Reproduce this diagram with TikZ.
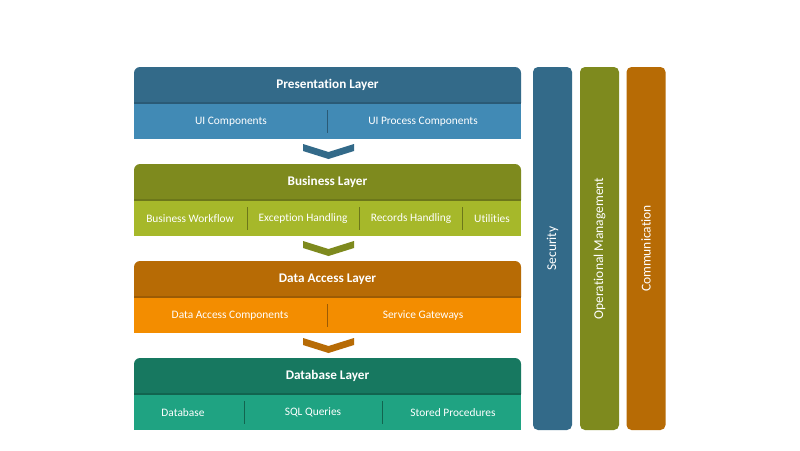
\documentclass[tikz,border=0pt]{standalone}
\usepackage{fontspec}
\setmainfont{Carlito}[Ligatures=NoCommon]
\definecolor{pH}{HTML}{336A89}
\definecolor{pS}{HTML}{418AB5}
\definecolor{pD}{HTML}{2A5A76}
\definecolor{bH}{HTML}{7E8A1E}
\definecolor{bS}{HTML}{A6B82A}
\definecolor{bD}{HTML}{6C771A}
\definecolor{dH}{HTML}{B76B05}
\definecolor{dS}{HTML}{F38D00}
\definecolor{dD}{HTML}{9C5B04}
\definecolor{gH}{HTML}{177860}
\definecolor{gS}{HTML}{1FA382}
\definecolor{gD}{HTML}{12644F}
\tikzset{
  hdr/.style={text=white,font=\bfseries\fontsize{13.2}{15}\selectfont},
  sublbl/.style={text=white,font=\fontsize{11.4}{13}\selectfont},
  vbar/.style={rounded corners=5pt,minimum width=39pt,minimum height=363pt,inner sep=0pt},
  vlbl/.style={rotate=90,text=white,font=\fontsize{13.5}{15}\selectfont},
  divider/.style={line width=0.9pt},
}
\newcommand{\layerbox}[6]{%
  \fill[#4] (134,#2) [rounded corners=6pt] -- (134,#1) -- (521,#1) [sharp corners] -- (521,#2) -- cycle;
  \fill[#5] (134,#2) rectangle (521,#3);
  \draw[#6,line width=1.6pt] (134,#2) -- (521,#2);
}
\newcommand{\chev}[2]{%
  \fill[#2] (303,#1) -- (328.5,#1+8) -- (354,#1) -- (354,#1+7) -- (328.5,#1+15) -- (303,#1+7) -- cycle;
}
\begin{document}
\begin{tikzpicture}[x=1pt,y=-1pt]
\useasboundingbox[fill=white] (0,0) rectangle (800,450);
% Presentation
\layerbox{67}{103}{139}{pH}{pS}{pD}
\node[hdr] (pl) at (327.5,85) {Presentation Layer};
\node[sublbl] (ui) at (231,122) {UI Components};
\node[sublbl] (uip) at (423,122) {UI Process Components};
\draw[divider,pD] (327,110) -- (327,133);
\chev{144}{pH}
% Business
\layerbox{164}{200}{236}{bH}{bS}{bD}
\node[hdr] (bl) at (327.5,182) {Business Layer};
\node[sublbl] (bw) at (190,218.5) {Business Workflow};
\node[sublbl] (eh) at (303,218.5) {Exception Handling};
\node[sublbl] (rh) at (411,218.5) {Records Handling};
\node[sublbl] (ut) at (492,218.5) {Utilities};
\draw[divider,bD] (247,207) -- (247,230);
\draw[divider,bD] (359,207) -- (359,230);
\draw[divider,bD] (462,207) -- (462,230);
\chev{241}{bH}
% Data access
\layerbox{261}{297}{333}{dH}{dS}{dD}
\node[hdr] (dl) at (327.5,279) {Data Access Layer};
\node[sublbl] (dac) at (230,315.5) {Data Access Components};
\node[sublbl] (sg) at (423,315.5) {Service Gateways};
\draw[divider,dD] (327,304) -- (327,327);
\chev{338}{dH}
% Database
\layerbox{358}{394}{430}{gH}{gS}{gD}
\node[hdr] (gl) at (327.5,376) {Database Layer};
\node[sublbl] (db) at (183,412.5) {Database};
\node[sublbl] (sq) at (313,412.5) {SQL Queries};
\node[sublbl] (sp) at (453,412.5) {Stored Procedures};
\draw[divider,gD] (244,401) -- (244,424);
\draw[divider,gD] (382,401) -- (382,424);
% Vertical bars
\node[vbar,fill=pH] (sec) at (552.5,248.5) {};
\node[vbar,fill=bH] (ops) at (599.5,248.5) {};
\node[vbar,fill=dH] (com) at (646,248.5) {};
\node[vlbl] (secl) at (sec.center) {Security};
\node[vlbl] (opsl) at (ops.center) {Operational Management};
\node[vlbl] (coml) at (com.center) {Communication};
\end{tikzpicture}
\end{document}
